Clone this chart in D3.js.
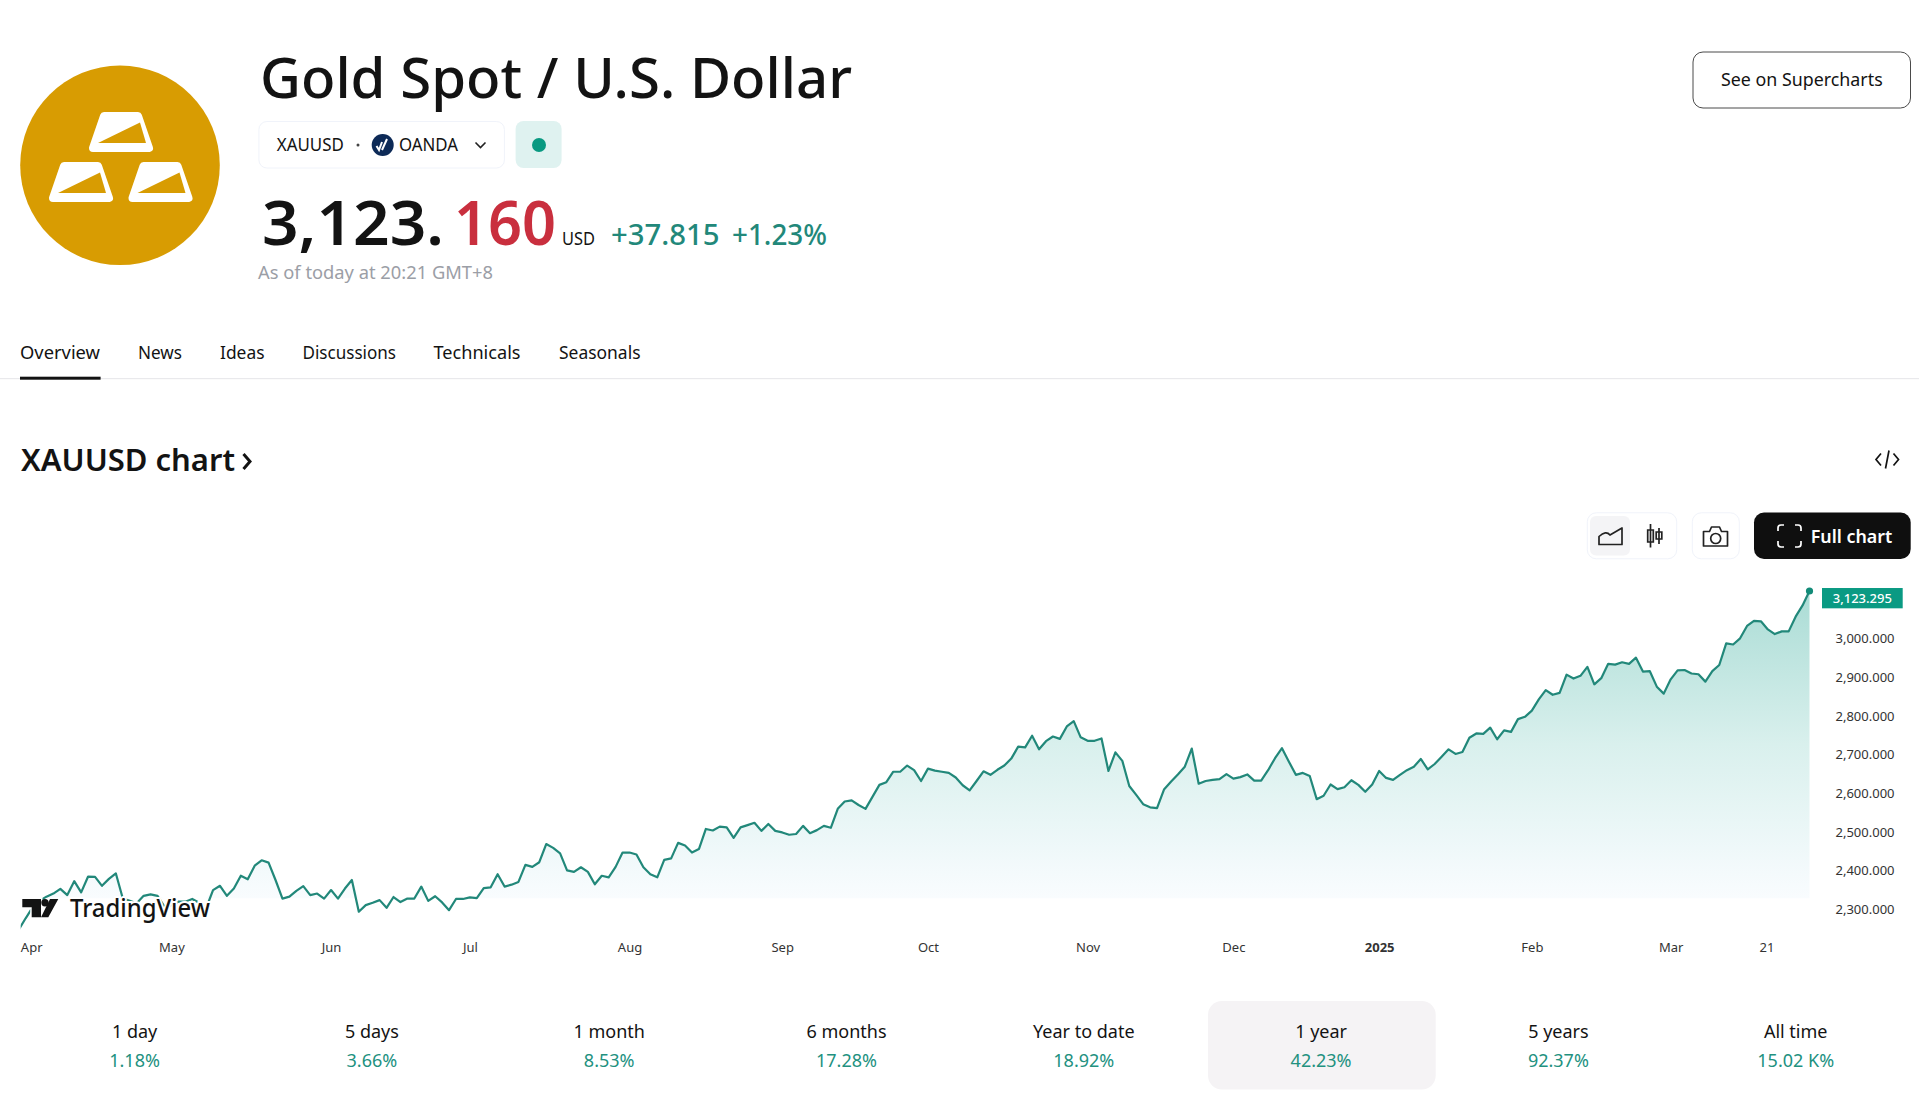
<!DOCTYPE html>
<html>
<head>
<meta charset="utf-8">
<title>XAUUSD</title>
<script src="https://d3js.org/d3.v7.min.js"></script>
<style>
  html, body { margin: 0; padding: 0; background: #fff; overflow: hidden; }
  svg { display: block; }
  text { font-family: "Noto Sans", sans-serif; }
</style>
</head>
<body>
<svg id="page" width="1919" height="1096"></svg>
<script>
// daily closes, oldest first
const closes = [
  2247, 2277, 2305, 2322, 2333, 2341, 2353, 2337, 2373, 2344, 2385, 2384, 2361, 2379, 2393, 2328,
  2322, 2316, 2335, 2339, 2335, 2307, 2311, 2320, 2320, 2327, 2317, 2303, 2350, 2361, 2335, 2354,
  2387, 2378, 2413, 2427, 2421, 2376, 2328, 2333, 2348, 2360, 2337, 2341, 2328, 2350, 2328, 2354,
  2376, 2294, 2311, 2317, 2324, 2304, 2332, 2319, 2328, 2328, 2359, 2322, 2334, 2318, 2298, 2327,
  2327, 2331, 2329, 2355, 2357, 2391, 2359, 2364, 2371, 2415, 2410, 2422, 2469, 2459, 2445, 2401,
  2397, 2409, 2397, 2365, 2387, 2383, 2410, 2447, 2447, 2442, 2409, 2391, 2383, 2428, 2432, 2472,
  2465, 2447, 2456, 2508, 2504, 2514, 2512, 2485, 2512, 2518, 2524, 2503, 2521, 2503, 2499, 2493,
  2495, 2516, 2497, 2505, 2516, 2511, 2560, 2579, 2582, 2570, 2560, 2591, 2622, 2629, 2656, 2656,
  2672, 2660, 2632, 2664, 2659, 2656, 2653, 2641, 2621, 2608, 2632, 2657, 2648, 2661, 2672, 2690,
  2721, 2719, 2749, 2714, 2735, 2747, 2741, 2773, 2787, 2745, 2736, 2736, 2742, 2658, 2706, 2684,
  2619, 2596, 2572, 2564, 2562, 2610, 2630, 2649, 2669, 2716, 2625, 2632, 2635, 2637, 2650, 2638,
  2642, 2649, 2633, 2633, 2660, 2691, 2717, 2682, 2648, 2653, 2645, 2585, 2594, 2623, 2611, 2616,
  2634, 2622, 2604, 2623, 2658, 2640, 2635, 2648, 2660, 2669, 2689, 2662, 2676, 2695, 2714, 2702,
  2707, 2744, 2755, 2754, 2770, 2740, 2763, 2759, 2792, 2798, 2814, 2843, 2867, 2855, 2860, 2907,
  2897, 2904, 2927, 2882, 2898, 2935, 2933, 2939, 2935, 2951, 2915, 2916, 2876, 2858, 2895, 2918,
  2919, 2910, 2908, 2889, 2916, 2932, 2988, 2985, 3001, 3033, 3046, 3045, 3024, 3012, 3019, 3019,
  3057, 3086, 3123.295
];
const priceTicks = [3000, 2900, 2800, 2700, 2600, 2500, 2400, 2300];
const timeLabels = ["Apr", "May", "Jun", "Jul", "Aug", "Sep", "Oct", "Nov", "Dec", "2025", "Feb", "Mar", "21"];
const timeIndex = [1.8, 22, 45, 65, 88, 110, 131, 154, 175, 196, 218, 238, 251.8];
const navTabs = ["Overview", "News", "Ideas", "Discussions", "Technicals", "Seasonals"];
const navLeft = [20, 138, 220, 302.5, 433.5, 559];
const navWidth = [80, 44, 44.5, 93.5, 87, 81.5];
const periods = ["1 day", "5 days", "1 month", "6 months", "Year to date", "1 year", "5 years", "All time"];
const periodChange = ["1.18%", "3.66%", "8.53%", "17.28%", "18.92%", "42.23%", "92.37%", "15.02 K%"];
const activePeriod = 5;
const areaBase = 2329;

const TEAL = "#22887a";
const INK = "#131313";
const GOLD = "#d89c02";

const svg = d3.select("#page");

function label(parent, str, x, y, size, opts) {
  opts = opts || {};
  const t = parent.append("text")
    .attr("x", x)
    .attr("y", y)
    .attr("font-size", size)
    .attr("fill", opts.fill || INK)
    .attr("font-weight", opts.weight || 400)
    .attr("text-anchor", opts.anchor || "start")
    .text(str);
  if (opts.width) {
    t.attr("textLength", opts.width).attr("lengthAdjust", "spacingAndGlyphs");
  }
  return t;
}

function box(parent, x, y, w, h, r, fill, stroke) {
  return parent.append("rect")
    .attr("x", x).attr("y", y).attr("width", w).attr("height", h).attr("rx", r)
    .attr("fill", fill).attr("stroke", stroke || "none");
}

// header -----------------------------------------------------------------
const head = svg.append("g");
head.append("circle").attr("cx", 120).attr("cy", 165.3).attr("r", 99.8).attr("fill", GOLD);

// three gold bars on the round logo
[[89, 112], [49, 162], [128.5, 162]].forEach(([bx, by]) => {
  const g = head.append("g").attr("transform", `translate(${bx},${by})`);
  g.append("path")
    .attr("d", "M15,4L49,4L60,36L4,36Z")
    .attr("fill", "#fff").attr("stroke", "#fff").attr("stroke-width", 8).attr("stroke-linejoin", "round");
  g.append("path").attr("d", "M9,31L51,10.5L57,31Z").attr("fill", GOLD);
});

label(head, "Gold Spot / U.S. Dollar", 260, 98.3, 57, { weight: 500, width: 592 });

box(head, 258.9, 121.5, 245.5, 46.5, 8, "#fff", "#f0f3fa");
label(head, "XAUUSD", 276.8, 150.5, 17.5, { width: 67 });
head.append("circle").attr("cx", 358).attr("cy", 145).attr("r", 1.5).attr("fill", "#444");
head.append("circle").attr("cx", 382.7).attr("cy", 145).attr("r", 11).attr("fill", "#0d2a57");
head.append("path").attr("d", "M376.5,146L379,150L382,142M382,150L387,139")
  .attr("fill", "none").attr("stroke", "#fff").attr("stroke-width", 2);
label(head, "OANDA", 399, 150.5, 17.5, { width: 59 });
head.append("path").attr("d", "M475.5,142.5L480.5,147.5L485.5,142.5")
  .attr("fill", "none").attr("stroke", "#222").attr("stroke-width", 1.6);
box(head, 515.6, 121, 46, 47, 8, "#dff2f0");
head.append("circle").attr("cx", 539).attr("cy", 145).attr("r", 7).attr("fill", "#089981");

label(head, "3,123.", 262, 245, 62, { weight: 600, width: 182 });
label(head, "160", 454, 245, 62, { weight: 600, fill: "#c92f3e", width: 102 });
label(head, "USD", 562, 245, 18, { width: 33 });
label(head, "+37.815", 611, 245, 28, { weight: 500, fill: TEAL, width: 108.5 });
label(head, "+1.23%", 732, 245, 28, { weight: 500, fill: TEAL, width: 95 });
label(head, "As of today at 20:21 GMT+8", 258, 278.5, 18, { fill: "#9b9ea6", width: 235 });

box(head, 1693, 52, 217.5, 56, 10, "#fff", "#4a4a4a");
label(head, "See on Supercharts", 1721, 86, 18, { width: 161.7 });

// nav tabs ---------------------------------------------------------------
const nav = svg.append("g");
navTabs.forEach((name, i) => {
  label(nav, name, navLeft[i], 359, 18, { width: navWidth[i] });
});
nav.append("rect").attr("x", 0).attr("y", 378).attr("width", 1919).attr("height", 1.2).attr("fill", "#e9e9ec");
nav.append("rect").attr("x", 20).attr("y", 376.7).attr("width", 80.6).attr("height", 3).attr("fill", INK);

// chart title and toolbar ------------------------------------------------
const bar = svg.append("g");
label(bar, "XAUUSD chart", 21, 471, 31, { weight: 600, width: 214 });
bar.append("path").attr("d", "M243.5,454L250,461.5L243.5,469")
  .attr("fill", "none").attr("stroke", INK).attr("stroke-width", 3);

bar.append("path").attr("d", "M1881,453.5L1876,459.5L1881,465.5M1893.5,453.5L1898.5,459.5L1893.5,465.5M1889,450.5L1885.5,468.5")
  .attr("fill", "none").attr("stroke", INK).attr("stroke-width", 1.7);

box(bar, 1587.3, 512.8, 89.4, 46, 9, "#fff", "#f0f3fa");
box(bar, 1590, 516, 40, 39.5, 6, "#f4f4f6");
bar.append("path").attr("d", "M1599,544.5L1599,536.5Q1606,530 1610,535L1622,528L1622,544.5Z")
  .attr("fill", "none").attr("stroke", "#222").attr("stroke-width", 1.7).attr("stroke-linejoin", "round");
bar.append("path")
  .attr("d", "M1650.5,524L1650.5,547.6M1659,528L1659,544M1647.7,530h5.6v12h-5.6zM1656.2,532h5.6v7h-5.6z")
  .attr("fill", "#fff").attr("stroke", "#222").attr("stroke-width", 1.7);

box(bar, 1692.3, 512.8, 47, 46, 9, "#fff", "#f0f3fa");
bar.append("path")
  .attr("d", "M1703.5,531.5h6l2,-4.5h8l2,4.5h6v14.5h-24z")
  .attr("fill", "none").attr("stroke", "#222").attr("stroke-width", 1.7).attr("stroke-linejoin", "round");
bar.append("circle").attr("cx", 1715.7).attr("cy", 538.5).attr("r", 5)
  .attr("fill", "none").attr("stroke", "#222").attr("stroke-width", 1.7);

box(bar, 1754, 512.5, 156.7, 46.5, 10, "#0f0f0f");
bar.append("path")
  .attr("d", "M1784,525H1781Q1778,525 1778,528V531M1795,525H1798Q1801,525 1801,528V531M1784,547H1781Q1778,547 1778,544V541M1795,547H1798Q1801,547 1801,544V541")
  .attr("fill", "none").attr("stroke", "#fff").attr("stroke-width", 1.7);
label(bar, "Full chart", 1810.7, 542.5, 18, { weight: 600, fill: "#fff", width: 81.6 });

// price chart ------------------------------------------------------------
const x = d3.scaleLinear().domain([0, closes.length - 1]).range([18.7, 1809.5]);
const y = d3.scaleLinear().domain([2300, 3000]).range([909.4, 638.7]);

const defs = svg.append("defs");
defs.append("clipPath").attr("id", "plot-clip").append("rect")
  .attr("x", 20.7).attr("y", 560).attr("width", 1800).attr("height", 400);

const grad = defs.append("linearGradient").attr("id", "area-fill")
  .attr("gradientUnits", "userSpaceOnUse")
  .attr("x1", 0).attr("x2", 0).attr("y1", y(3123)).attr("y2", y(areaBase));
grad.append("stop").attr("offset", 0).attr("stop-color", "#aadcd5");
grad.append("stop").attr("offset", 0.5).attr("stop-color", "#d9f0ed");
grad.append("stop").attr("offset", 0.92).attr("stop-color", "#f4fafc");
grad.append("stop").attr("offset", 1).attr("stop-color", "#f9fcfe");

const plot = svg.append("g").attr("clip-path", "url(#plot-clip)");

const area = d3.area()
  .x((d, i) => x(i))
  .y0(y(areaBase))
  .y1((d) => y(Math.max(d, areaBase)));

const line = d3.line()
  .x((d, i) => x(i))
  .y((d) => y(d));

plot.append("path").datum(closes).attr("d", area).attr("fill", "url(#area-fill)");
plot.append("path").datum(closes).attr("d", line)
  .attr("fill", "none").attr("stroke", TEAL).attr("stroke-width", 2.2).attr("stroke-linejoin", "round");

svg.append("circle")
  .attr("cx", x(closes.length - 1)).attr("cy", y(closes[closes.length - 1])).attr("r", 3.6)
  .attr("fill", "#128b78");

// watermark sits over the line with a white halo
const mark = svg.append("g");
mark.append("path")
  .attr("d", "M22.3,899H41V917.3H31.7V907.3H22.3ZM50,899H58.3L48.3,917.3H41Z")
  .attr("fill", INK).attr("stroke", "#fff").attr("stroke-width", 3).attr("paint-order", "stroke");
mark.append("circle").attr("cx", 45).attr("cy", 902.8).attr("r", 3.7).attr("fill", INK);
label(mark, "TradingView", 70, 917.3, 25.5, { weight: 500, width: 140 })
  .attr("stroke", "#fff").attr("stroke-width", 4).attr("paint-order", "stroke");

// axes
const yAxis = d3.axisRight(y)
  .tickValues(priceTicks)
  .tickSize(0)
  .tickFormat(d3.format(",.3f"));
const yG = svg.append("g").attr("transform", "translate(1865,0)").call(yAxis);
yG.select(".domain").remove();
yG.selectAll("text")
  .attr("x", 0).attr("text-anchor", "middle")
  .attr("font-size", 13).attr("fill", "#333").style("font-family", '"Noto Sans", sans-serif');

const xAxis = d3.axisBottom(x)
  .tickValues(timeIndex)
  .tickSize(0)
  .tickFormat((d, i) => timeLabels[i]);
const xG = svg.append("g").attr("transform", "translate(0,943)").call(xAxis);
xG.select(".domain").remove();
xG.selectAll("text")
  .attr("y", 0).attr("dy", "0.71em")
  .attr("font-size", 13).attr("fill", "#333").style("font-family", '"Noto Sans", sans-serif')
  .attr("font-weight", (d, i) => (timeLabels[i] === "2025" ? 700 : 400));

// last price tag
const tag = svg.append("g");
tag.append("rect").attr("x", 1822).attr("y", y(closes[closes.length - 1]) - 3).attr("width", 80.7).attr("height", 20.3).attr("fill", "#0a9a83");
label(tag, d3.format(",.3f")(closes[closes.length - 1]), 1862.3, 602.5, 13, { fill: "#fff", anchor: "middle", weight: 500 });

// period strip -----------------------------------------------------------
const strip = svg.append("g");
const stripX = d3.scaleBand().domain(periods).range([16, 1915]);
box(strip, 1208, 1001, 227.7, 88.5, 14, "#f5f3f5");
periods.forEach((p, i) => {
  const cx = 134.6 + i * 237.3;
  label(strip, p, cx, 1038, 18, { anchor: "middle" });
  label(strip, periodChange[i], cx, 1067, 18, { anchor: "middle", fill: "#22917f" });
});
</script>
</body>
</html>
